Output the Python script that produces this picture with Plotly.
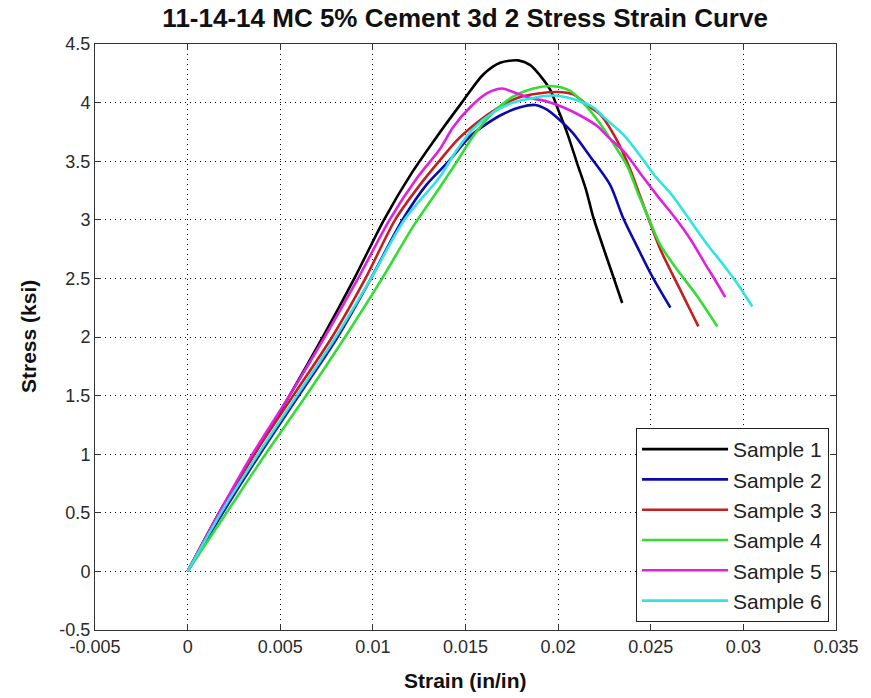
import plotly.graph_objects as go

# Stress–strain data for six cement-treated samples (strain in in/in, stress in ksi)
s1_strain = [0, 0.0017, 0.0036, 0.0055, 0.0073, 0.0090, 0.0106, 0.0121, 0.0135, 0.0148,
             0.01596, 0.01687, 0.01785, 0.0185, 0.01903, 0.01957, 0.0200, 0.02049, 0.02103,
             0.0215, 0.0219, 0.02236, 0.0229, 0.02346]
s1_stress = [0, 0.5, 1.0, 1.5, 2.0, 2.5, 3.0, 3.4, 3.72, 4.0,
             4.24, 4.34, 4.36, 4.32, 4.23, 4.11, 3.94, 3.74, 3.48,
             3.26, 3.02, 2.80, 2.55, 2.29]

s2_strain = [0, 0.0019, 0.0039, 0.0060, 0.0081, 0.0099, 0.0116, 0.0129, 0.0141, 0.0153,
             0.01687, 0.01795, 0.01876, 0.0194, 0.0201, 0.0208, 0.02173, 0.0228, 0.0235,
             0.0243, 0.0251, 0.02606]
s2_stress = [0, 0.5, 1.0, 1.5, 2.0, 2.5, 3.0, 3.3, 3.5, 3.72,
             3.89, 3.96, 3.98, 3.94, 3.85, 3.74, 3.54, 3.30, 3.02,
             2.76, 2.51, 2.25]

s3_strain = [0, 0.0017, 0.0036, 0.0057, 0.0078, 0.0096, 0.0112, 0.01255, 0.01363, 0.01455,
             0.01563, 0.01671, 0.01779, 0.01903, 0.01995, 0.02081, 0.02173, 0.02227, 0.02317,
             0.02389, 0.02443, 0.02497, 0.02551, 0.02606, 0.0266, 0.02713, 0.02757]
s3_stress = [0, 0.5, 1.0, 1.5, 2.0, 2.5, 3.0, 3.3, 3.51, 3.68,
             3.83, 3.95, 4.04, 4.08, 4.09, 4.07, 3.96, 3.90, 3.68,
             3.43, 3.20, 2.97, 2.75, 2.57, 2.40, 2.23, 2.09]

s4_strain = [0, 0.0021, 0.0042, 0.0064, 0.0085, 0.0105, 0.0122, 0.01363, 0.01455, 0.01544,
             0.01652, 0.01757, 0.01865, 0.01973, 0.02065, 0.02157, 0.02227, 0.02298, 0.02376,
             0.0243, 0.02484, 0.0255, 0.0264, 0.0275, 0.02859]
s4_stress = [0, 0.5, 1.0, 1.5, 2.0, 2.5, 2.95, 3.28, 3.5, 3.72,
             3.92, 4.05, 4.12, 4.14, 4.10, 3.96, 3.82, 3.65, 3.45,
             3.23, 3.03, 2.79, 2.58, 2.35, 2.09]

s5_strain = [0, 0.0017, 0.0035, 0.0055, 0.0074, 0.0092, 0.0109, 0.0124, 0.0136, 0.01433,
             0.01525, 0.01617, 0.01698, 0.01757, 0.0185, 0.0194, 0.02027, 0.02119, 0.02211,
             0.02268, 0.02362, 0.02446, 0.02538, 0.0263, 0.02716, 0.02791, 0.0285, 0.02902]
s5_stress = [0, 0.5, 1.0, 1.5, 2.0, 2.5, 3.0, 3.36, 3.6, 3.79,
             3.96, 4.08, 4.12, 4.09, 4.04, 4.01, 3.96, 3.89, 3.80,
             3.71, 3.57, 3.39, 3.20, 3.02, 2.83, 2.63, 2.48, 2.34]

s6_strain = [0, 0.0018, 0.0038, 0.0059, 0.0080, 0.0099, 0.0117, 0.01363, 0.01455, 0.01544,
             0.01652, 0.01757, 0.01865, 0.01973, 0.0208, 0.02189, 0.02251, 0.02362, 0.02446,
             0.0252, 0.0262, 0.0271, 0.0280, 0.0290, 0.0297, 0.03048]
s6_stress = [0, 0.5, 1.0, 1.5, 2.0, 2.5, 3.0, 3.37, 3.60, 3.78,
             3.92, 4.00, 4.04, 4.06, 4.03, 3.96, 3.87, 3.71, 3.54,
             3.38, 3.20, 3.00, 2.80, 2.60, 2.45, 2.26]

sample_names = ["Sample 1", "Sample 2", "Sample 3", "Sample 4", "Sample 5", "Sample 6"]
sample_colors = ["#000000", "#0a0ab0", "#c41e1e", "#33dd33", "#e020e0", "#30e4e4"]

x_tick_vals = [-0.005, 0, 0.005, 0.01, 0.015, 0.02, 0.025, 0.03, 0.035]
x_tick_text = ["-0.005", "0", "0.005", "0.01", "0.015", "0.02", "0.025", "0.03", "0.035"]
y_tick_vals = [-0.5, 0, 0.5, 1, 1.5, 2, 2.5, 3, 3.5, 4, 4.5]
y_tick_text = ["-0.5", "0", "0.5", "1", "1.5", "2", "2.5", "3", "3.5", "4", "4.5"]

series = [
    (s1_strain, s1_stress),
    (s2_strain, s2_stress),
    (s3_strain, s3_stress),
    (s4_strain, s4_stress),
    (s5_strain, s5_stress),
    (s6_strain, s6_stress),
]

fig = go.Figure()
for (xs, ys), name, color in zip(series, sample_names, sample_colors):
    fig.add_trace(go.Scatter(
        x=xs, y=ys, mode="lines", name=name, legendgroup=name,
        line=dict(color=color, width=2.6, shape="spline", smoothing=0.8),
    ))

font_family = "Liberation Sans, Arial, sans-serif"
tick_font = dict(family=font_family, size=18, color="#2a2a2a")
axis_common = dict(
    showline=True, linecolor="#333333", linewidth=1, mirror="ticks",
    ticks="inside", ticklen=6, tickcolor="#333333", tickwidth=1,
    showgrid=True, gridcolor="#000000", gridwidth=1, griddash="1px,4px",
    zeroline=False, tickfont=tick_font,
)

fig.update_layout(
    width=871, height=698,
    margin=dict(l=95, r=35, t=44, b=68),
    paper_bgcolor="white", plot_bgcolor="white",
    showlegend=True,
    title=dict(
        text="<b>11-14-14 MC 5% Cement 3d 2 Stress Strain Curve</b>",
        x=0.534, xanchor="center", y=0.974, yanchor="middle",
        font=dict(family=font_family, size=26, color="#111111"),
    ),
    xaxis=dict(range=[-0.005, 0.035], tickvals=x_tick_vals, ticktext=x_tick_text, **axis_common),
    yaxis=dict(range=[-0.5, 4.5], tickvals=y_tick_vals, ticktext=y_tick_text, **axis_common),
    legend=dict(
        x=0.9906, y=0.0137, xanchor="right", yanchor="bottom",
        bgcolor="white", bordercolor="#222222", borderwidth=1,
        font=dict(family=font_family, size=21, color="#222222"),
        tracegroupgap=0, itemwidth=86,
    ),
    annotations=[
        dict(text="<b>Strain (in/in)</b>", xref="paper", yref="paper", x=0.5, y=0,
             yshift=-50, xanchor="center", yanchor="middle", showarrow=False,
             font=dict(family=font_family, size=21, color="#111111")),
        dict(text="<b>Stress (ksi)</b>", xref="paper", yref="paper", x=0, y=0.5,
             xshift=-67, xanchor="center", yanchor="middle", showarrow=False, textangle=-90,
             font=dict(family=font_family, size=21, color="#111111")),
    ],
)

fig.write_html("out.html")
